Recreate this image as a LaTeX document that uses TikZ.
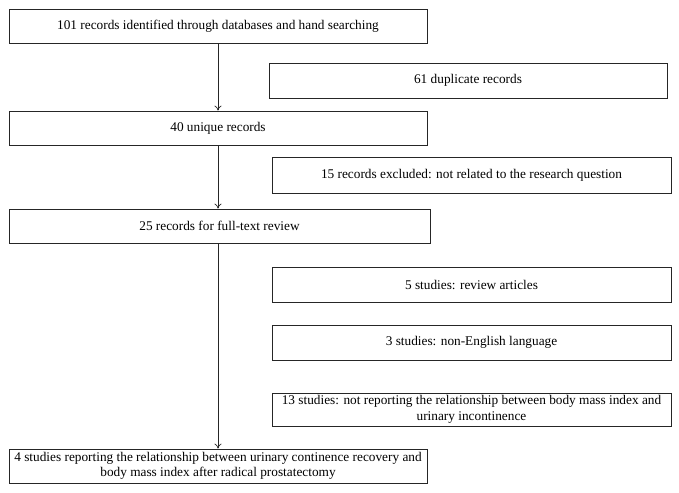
\documentclass[tikz,border=0pt]{standalone}
\usepackage{fontspec}
\setmainfont{Liberation Serif}
\usetikzlibrary{arrows.meta}
\begin{document}
\begin{tikzpicture}[x=1pt,y=-1pt,
  box/.style={draw=black!85, line width=0.8pt, inner sep=0pt, align=center,
    font=\fontsize{13.3}{15.5}\selectfont},
  arr/.style={draw=black!85, line width=0.7pt, -{To[length=5pt,width=7pt]}}]
\useasboundingbox (0,0) rectangle (679,492);
\node[box, minimum width=418pt, minimum height=34pt] (a) at (218,26) {101 records identified through databases and hand searching};
\node[box, minimum width=398pt, minimum height=35pt] (b) at (468,80.5) {61 duplicate records};
\node[box, minimum width=418pt, minimum height=34pt] (c) at (218,128) {40 unique records};
\node[box, minimum width=399pt, minimum height=36pt] (d) at (471.5,175) {15 records excluded: not related to the research question};
\node[box, minimum width=421pt, minimum height=34pt] (e) at (219.5,226) {25 records for full-text review};
\node[box, minimum width=399pt, minimum height=35pt] (f) at (471.5,284.5) {5 studies: review articles};
\node[box, minimum width=399pt, minimum height=35pt] (g) at (471.5,342.5) {3 studies: non-English language};
\node[box, minimum width=399pt, minimum height=33pt] (h) at (471.5,409.5) {13 studies: not reporting the relationship between body mass index and\\urinary incontinence};
\node[box, minimum width=418pt, minimum height=34pt] (i) at (218,466) {4 studies reporting the relationship between urinary continence recovery and\\body mass index after radical prostatectomy};
\draw[arr] (a.south) -- (c.north);
\draw[arr] (c.south) -- (c.south |- e.north);
\draw[arr] (e.south -| a.south) -- (i.north);
\end{tikzpicture}
\end{document}
